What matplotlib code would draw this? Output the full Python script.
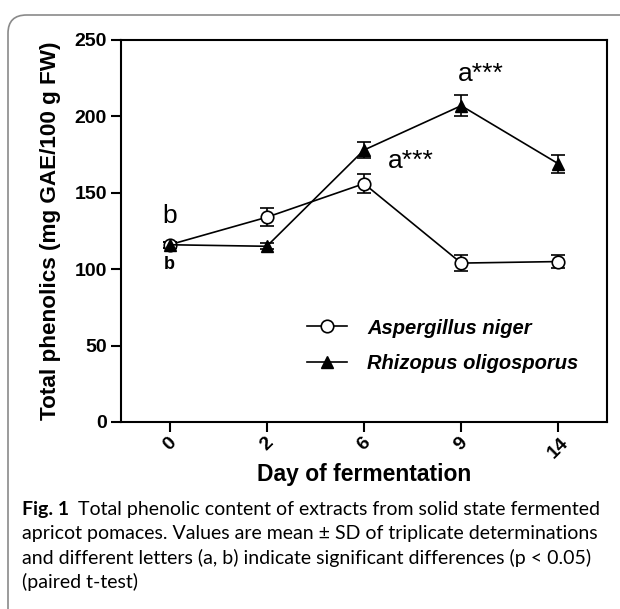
import matplotlib
matplotlib.use("Agg")
import matplotlib.pyplot as plt
from matplotlib.patches import FancyBboxPatch
from matplotlib.lines import Line2D

days = ['0', '2', '6', '9', '14']
niger = [116, 134, 156, 104, 105]
niger_sd = [2, 6, 6, 5, 4]
rhizo = [116, 115, 178, 207, 169]
rhizo_sd = [2, 2, 5, 7, 6]
series_names = ['Aspergillus niger', 'Rhizopus oligosporus']
yticks = [0, 50, 100, 150, 200, 250]

fig = plt.figure(figsize=(6.2, 6.09), dpi=100)
ax = fig.add_axes([121/620, 1-422/609, (607-121)/620, (422-40)/609])

x = list(range(len(days)))
ax.errorbar(x, niger, yerr=niger_sd, fmt='-o', color='black', mfc='white',
            mec='black', ms=9, mew=1.2, lw=1.2, capsize=5, capthick=1.2, elinewidth=1.2)
ax.errorbar(x, rhizo, yerr=rhizo_sd, fmt='-^', color='black', mfc='black',
            ms=9, lw=1.2, capsize=5, capthick=1.2, elinewidth=1.2)

ax.set_xlim(-0.5, 4.5)
ax.set_ylim(0, 250)
ax.set_yticks(yticks)
ax.set_xticks(x)
ax.set_xticklabels(days, rotation=45, ha='center', va='top')
for s in ax.spines.values():
    s.set_linewidth(1.5)
ax.tick_params(axis='both', direction='out', width=1.5, length=7, labelsize=14)
ax.tick_params(axis='x', pad=2)
ax.tick_params(axis='y', pad=3)
for lab in ax.get_xticklabels() + ax.get_yticklabels():
    lab.set_fontweight('bold')
    lab.set_family('Liberation Sans')

ax.set_ylabel('Total phenolics (mg GAE/100 g FW)', fontsize=16.2, fontweight='bold',
              family='Liberation Sans', labelpad=10)
ax.set_xlabel('Day of fermentation', fontsize=16.5, fontweight='bold',
              family='Liberation Sans', labelpad=1)

ax.text(0, 135, 'b', fontsize=19, family='Liberation Sans', ha='center', va='center')
ax.text(0, 103, 'b', fontsize=13, family='Liberation Sans', fontweight='bold', ha='center', va='center')
ax.text(3.2, 228, 'a***', fontsize=19, family='Liberation Sans', ha='center', va='center')
ax.text(2.48, 171, 'a***', fontsize=19, family='Liberation Sans', ha='center', va='center')

handles = [Line2D([], [], color='black', lw=1.2, marker='o', mfc='white', mec='black', ms=9, mew=1.2),
           Line2D([], [], color='black', lw=1.2, marker='^', mfc='black', ms=9)]
ax.legend(handles, series_names, loc='center left', bbox_to_anchor=(0.345, 0.2),
          frameon=False, handlelength=2.0, handletextpad=1.0, labelspacing=0.8,
          prop={'family': 'Liberation Sans', 'weight': 'bold', 'style': 'italic', 'size': 14.5})

# figure border (rounded, opens to the right and bottom)
box = FancyBboxPatch((8/620, -0.1), 1.2, 1 - 15/609 + 0.1, boxstyle='round,pad=0,rounding_size=0.03',
                     transform=fig.transFigure, fill=False, ec='#8a8a8a', lw=1.2, clip_on=False)
fig.add_artist(box)

# caption
cap_font = 'Lato'
cap_size = 14
fig.canvas.draw()
r = fig.canvas.get_renderer()
t0 = fig.text(22/620, 1-510/609, 'Fig. 1', fontsize=cap_size, fontweight='bold', family=cap_font, va='center')
bb = t0.get_window_extent(renderer=r)
fig.text((bb.x1 + 9)/620, 1-510/609, 'Total phenolic content of extracts from solid state fermented',
         fontsize=cap_size, family=cap_font, va='center')
lines = ['apricot pomaces. Values are mean \u00b1 SD of triplicate determinations',
         'and different letters (a, b) indicate significant differences (p < 0.05)',
         '(paired t-test)']
for i, line in enumerate(lines):
    fig.text(22/620, 1-(534 + 24*i)/609, line, fontsize=cap_size, family=cap_font, va='center')

fig.savefig('out.png', dpi=100)
